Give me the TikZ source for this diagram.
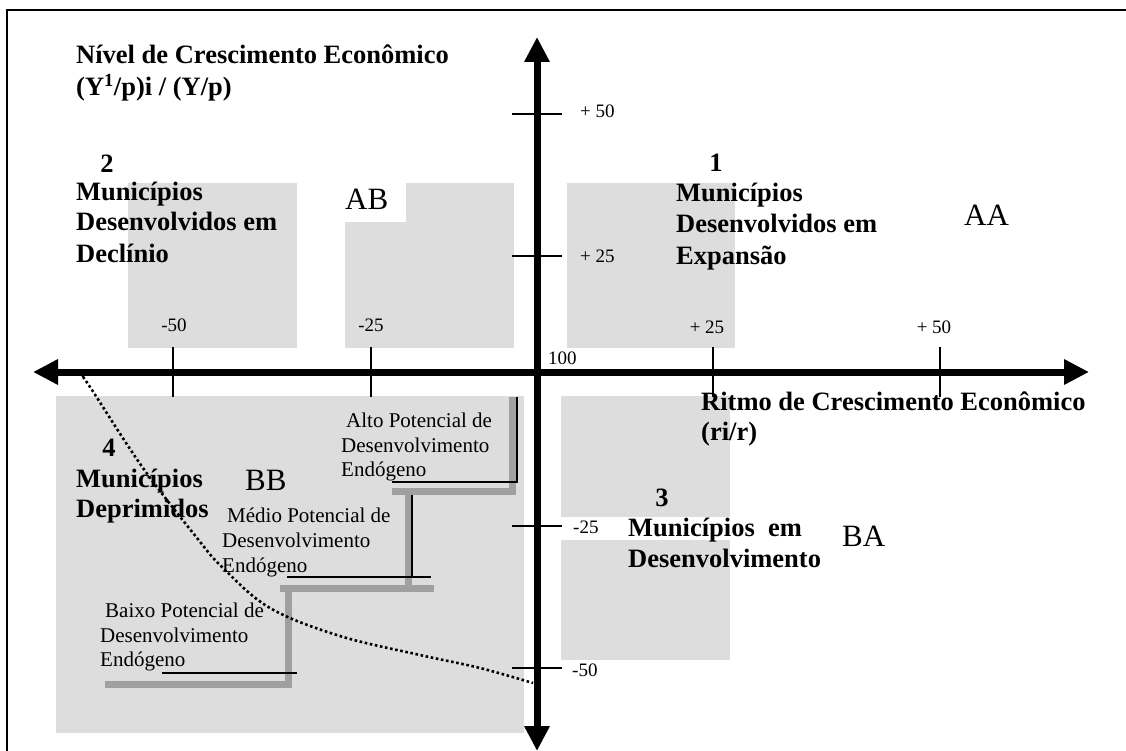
\documentclass[tikz,border=0pt]{standalone}
\usepackage{fontspec}
\setmainfont{Liberation Serif}
\usetikzlibrary{arrows.meta}
\definecolor{qgray}{HTML}{DDDDDD}
\definecolor{sgray}{HTML}{A0A0A0}
\begin{document}
\begin{tikzpicture}[x=1pt,y=-1pt,
  bl/.style={font=\fontsize{26.5}{30}\selectfont\bfseries, inner sep=0pt, anchor=base west},
  bnum/.style={font=\fontsize{26.5}{30}\selectfont\bfseries, inner sep=0pt, anchor=base},
  rl/.style={font=\fontsize{21}{25}\selectfont, inner sep=0pt, anchor=base west},
  big/.style={font=\fontsize{31}{35}\selectfont, inner sep=0pt, anchor=base west},
  tl/.style={font=\fontsize{19}{22}\selectfont, inner sep=0pt},
  axisline/.style={line width=7pt, {Triangle[length=25pt,width=24pt]}-{Triangle[length=25pt,width=24pt]}},
  tick/.style={line width=2pt},
  shadow/.style={draw=sgray, line width=7pt},
  thin/.style={line width=2pt},
  dotcurve/.style={line width=2.6pt, dash pattern=on 2.6pt off 2.6pt}
]
\useasboundingbox (0,0) rectangle (1126,751);
\fill[white] (0,0) rectangle (1126,751);
% frame
\draw[line width=2pt] (1126,10) -- (7,10) -- (7,751);

% grey panels
\fill[qgray] (128,183) rectangle (297,348);
\fill[qgray] (345,183) rectangle (514,348);
\fill[white] (335,183) rectangle (406,222);
\fill[qgray] (567,183) rectangle (735,348);
\fill[qgray] (561,396) rectangle (730,517);
\fill[qgray] (561,540) rectangle (730,660);
\fill[qgray] (56,396) rectangle (524,733);

% staircase
\coordinate (a1) at (392,491); \coordinate (a2) at (512,491); \coordinate (a3) at (512,397);
\draw[shadow] (a1) -- (a2) -- (a3);
\coordinate (b1) at (280,588); \coordinate (b2) at (434,588);
\coordinate (b3) at (408,588); \coordinate (b4) at (408,492);
\draw[shadow] (b1) -- (b2); \draw[shadow] (b3) -- (b4);
\coordinate (c1) at (105,684); \coordinate (c2) at (292,684);
\coordinate (c3) at (288,684); \coordinate (c4) at (288,587);
\draw[shadow] (c1) -- (c2); \draw[shadow] (c3) -- (c4);

\coordinate (ak1) at (392,482); \coordinate (ak2) at (517,482); \coordinate (ak3) at (517,397);
\draw[thin] (ak1) -- (ak2) -- (ak3);
\coordinate (bk1) at (287,577); \coordinate (bk2) at (431,577);
\coordinate (bk3) at (412,577); \coordinate (bk4) at (412,495);
\draw[thin] (bk1) -- (bk2); \draw[thin] (bk3) -- (bk4);
\coordinate (ck1) at (162,673); \coordinate (ck2) at (297,673);
\draw[thin] (ck1) -- (ck2);

% axes
\coordinate (xl) at (33,372); \coordinate (xr) at (1089,372);
\coordinate (yt) at (537,37); \coordinate (yb) at (537,751);
\draw[axisline] (xl) -- (xr);
\draw[axisline] (yt) -- (yb);

% x ticks
\foreach \n/\x in {m50/173, m25/371, p25/713, p50/940}{
  \coordinate (xt\n a) at (\x,347); \coordinate (xt\n b) at (\x,397);
  \draw[tick] (xt\n a) -- (xt\n b);
}
% y ticks
\foreach \n/\y in {p50/114, p25/256, m25/526, m50/668}{
  \coordinate (yt\n a) at (512,\y); \coordinate (yt\n b) at (562,\y);
  \draw[tick] (yt\n a) -- (yt\n b);
}

% tick labels
\node[tl] (lxm50) at (174,325) {-50};
\node[tl] (lxm25) at (371,325) {-25};
\node[tl] (lxp25) at (707,327) {+ 25};
\node[tl] (lxp50) at (934,327) {+ 50};
\node[tl, anchor=west] (lyp50) at (580,111) {+ 50};
\node[tl, anchor=west] (lyp25) at (580,256) {+ 25};
\node[tl, anchor=west] (lym25) at (573,527) {-25};
\node[tl, anchor=west] (lym50) at (572,670) {-50};
\node[tl, anchor=west] (l100) at (548,358) {100};

% axis titles
\node[bl] (ty1) at (76,64) {Nível de Crescimento Econômico};
\node[bl] (ty2) at (76,96) {(Y\textsuperscript{1}/p)i / (Y/p)};
\node[bl] (tx1) at (701,410) {Ritmo de Crescimento Econômico};
\node[bl] (tx2) at (701,440) {(ri/r)};

% quadrant 2
\node[bnum] (n2) at (107,173) {2};
\node[bl] (q2a) at (76,201) {Municípios};
\node[bl] (q2b) at (76,231) {Desenvolvidos em};
\node[bl] (q2c) at (76,262) {Declínio};
\node[big] (ab) at (345,210) {AB};

% quadrant 1
\node[bnum] (n1) at (716,172) {1};
\node[bl] (q1a) at (676,202) {Municípios};
\node[bl] (q1b) at (676,233) {Desenvolvidos em};
\node[bl] (q1c) at (676,264) {Expansão};
\node[big] (aa) at (964,226) {AA};

% quadrant 3
\node[bnum] (n3) at (662,506) {3};
\node[bl] (q3a) at (628,536) {Municípios~~em};
\node[bl] (q3b) at (628,567) {Desenvolvimento};
\node[big] (ba) at (842,546) {BA};

% quadrant 4
\node[bnum] (n4) at (109,456) {4};
\node[bl] (q4a) at (76,487) {Municípios};
\node[bl] (q4b) at (76,517) {Deprimidos};
\node[big] (bb) at (245,490) {BB};

% step labels
\node[rl] (al1) at (341,427) {\hspace{5pt}Alto Potencial de};
\node[rl] (al2) at (341,452) {Desenvolvimento};
\node[rl] (al3) at (341,476) {Endógeno};
\node[rl] (ml1) at (222,522) {\hspace{5pt}Médio Potencial de};
\node[rl] (ml2) at (222,547) {Desenvolvimento};
\node[rl] (ml3) at (222,572) {Endógeno};
\node[rl] (bl1) at (100,617) {\hspace{5pt}Baixo Potencial de};
\node[rl] (bl2) at (100,642) {Desenvolvimento};
\node[rl] (bl3) at (100,666) {Endógeno};

% dotted curve
\draw[dotcurve] plot[smooth, tension=0.6] coordinates {(83,377) (92,390) (143,468) (197,538) (223,568) (270,608) (340,636) (420,655) (480,668) (533,683)};
\end{tikzpicture}
\end{document}
